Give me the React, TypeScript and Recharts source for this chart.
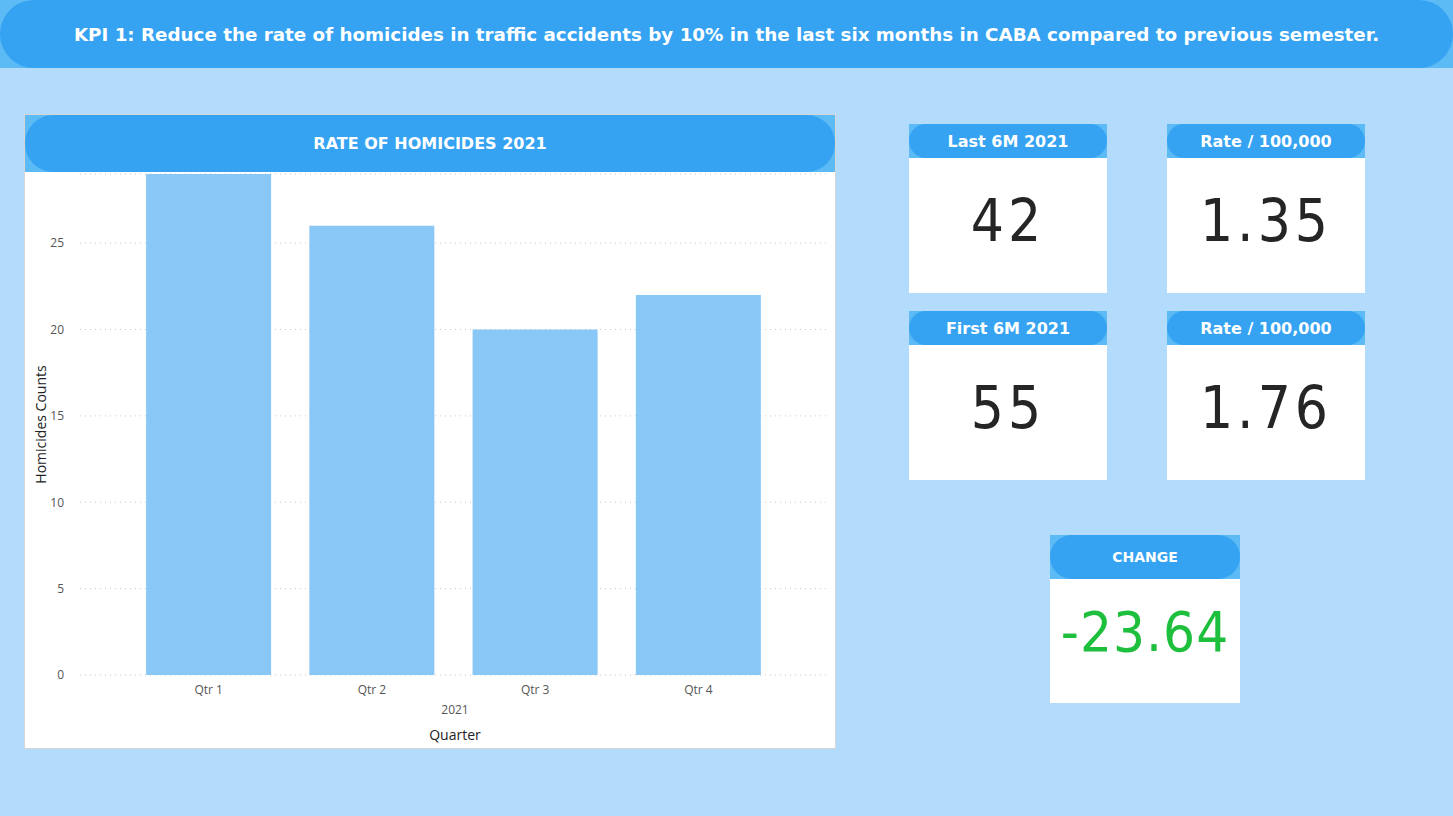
import React from "react";
import { BarChart, Bar, XAxis, YAxis, CartesianGrid } from "recharts";

const quarters = ["Qtr 1", "Qtr 2", "Qtr 3", "Qtr 4"];
const homicides = [29, 26, 20, 22];
const yTicks = [0, 5, 10, 15, 20, 25];

const kpiCards = [
  { title: "Last 6M 2021", value: "42", left: 909, top: 124 },
  { title: "Rate / 100,000", value: "1.35", left: 1167, top: 124 },
  { title: "First 6M 2021", value: "55", left: 909, top: 311 },
  { title: "Rate / 100,000", value: "1.76", left: 1167, top: 311 },
];
const changeValue = "-23.64";

const data = quarters.map((q, i) => ({ quarter: q, count: homicides[i] }));

const BLUE = "#35a3f2";
const EDGE = "#5cbaf5";
const headFont = "'DejaVu Sans', Verdana, sans-serif";
const numFont = "'DejaVu Sans Condensed', 'DejaVu Sans', sans-serif";

function Header({ text, height, fontSize }: { text: string; height: number; fontSize: number }) {
  return (
    <div style={{ background: EDGE, height }}>
      <div
        style={{
          background: BLUE,
          height,
          borderRadius: height / 2,
          color: "#fff",
          fontFamily: headFont,
          fontWeight: "bold",
          fontSize,
          display: "flex",
          alignItems: "center",
          justifyContent: "center",
        }}
      >
        {text}
      </div>
    </div>
  );
}

export default function App() {
  return (
    <div
      style={{
        position: "fixed",
        left: 0,
        top: 0,
        width: 1453,
        height: 816,
        background: "#b3dbfb",
        overflow: "hidden",
      }}
    >
      {/* Title banner */}
      <div style={{ position: "absolute", left: 0, top: 0, width: 1453, height: 68, background: EDGE }}>
        <div
          style={{
            height: 68,
            background: BLUE,
            borderRadius: 34,
            color: "#fff",
            fontFamily: headFont,
            fontWeight: "bold",
            fontSize: 18.3,
            display: "flex",
            alignItems: "center",
            justifyContent: "center",
          }}
        >
          KPI 1: Reduce the rate of homicides in traffic accidents by 10% in the last six months in CABA compared to previous semester.
        </div>
      </div>

      {/* Chart panel */}
      <div
        style={{
          position: "absolute",
          left: 24,
          top: 114,
          width: 810,
          height: 633,
          background: "#fff",
          border: "1px solid #d6d6d6",
        }}
      >
        <Header text="RATE OF HOMICIDES 2021" height={57} fontSize={16} />
        <BarChart
          width={810}
          height={576}
          data={data}
          margin={{ top: 2, right: 7, bottom: 0, left: 0 }}
          barCategoryGap="11.7%"
        >
          <CartesianGrid vertical={false} stroke="#c8c8c8" strokeDasharray="1 4" />
          <XAxis
            dataKey="quarter"
            height={73}
            padding={{ left: 47, right: 48 }}
            axisLine={false}
            tickLine={false}
            tick={{ fontSize: 12, fill: "#555", fontFamily: "'Segoe UI', 'Open Sans', sans-serif" }}
            tickMargin={4}
          />
          <YAxis
            width={55}
            domain={[0, 29]}
            ticks={yTicks}
            axisLine={false}
            tickLine={false}
            tickMargin={10}
            tick={{ fontSize: 12, fill: "#555", fontFamily: "'Segoe UI', 'Open Sans', sans-serif" }}
          />
          <Bar dataKey="count" fill="#89c7f7" isAnimationActive={false} />
        </BarChart>
        <div style={{ position: "absolute", left: 0, width: 860, top: 586, textAlign: "center", fontSize: 12, color: "#555", fontFamily: "'Open Sans', sans-serif" }}>
          2021
        </div>
        <div style={{ position: "absolute", left: 0, width: 860, top: 610, textAlign: "center", fontSize: 14, color: "#222", fontFamily: "'Open Sans', sans-serif" }}>
          Quarter
        </div>
        <div
          style={{
            position: "absolute",
            left: 15 - 70,
            top: 300,
            width: 140,
            textAlign: "center",
            transform: "rotate(-90deg)",
            fontSize: 14,
            color: "#222",
            fontFamily: "'Open Sans', sans-serif",
          }}
        >
          Homicides Counts
        </div>
      </div>

      {/* KPI cards */}
      {kpiCards.map((c, i) => (
        <div key={i} style={{ position: "absolute", left: c.left, top: c.top, width: 198, height: 169, background: "#fff" }}>
          <Header text={c.title} height={34} fontSize={16} />
          <div
            style={{
              height: 125,
              display: "flex",
              alignItems: "center",
              justifyContent: "center",
              fontFamily: numFont,
              fontSize: 58,
              letterSpacing: 4,
              color: "#252525",
            }}
          >
            {c.value}
          </div>
        </div>
      ))}

      {/* Change card */}
      <div style={{ position: "absolute", left: 1050, top: 535, width: 190, height: 168, background: "#fff" }}>
        <Header text="CHANGE" height={44} fontSize={14} />
        <div
          style={{
            height: 104,
            display: "flex",
            alignItems: "center",
            justifyContent: "center",
            fontFamily: numFont,
            fontSize: 56,
            letterSpacing: 1,
            color: "#1dbf3c",
          }}
        >
          {changeValue}
        </div>
      </div>
    </div>
  );
}
